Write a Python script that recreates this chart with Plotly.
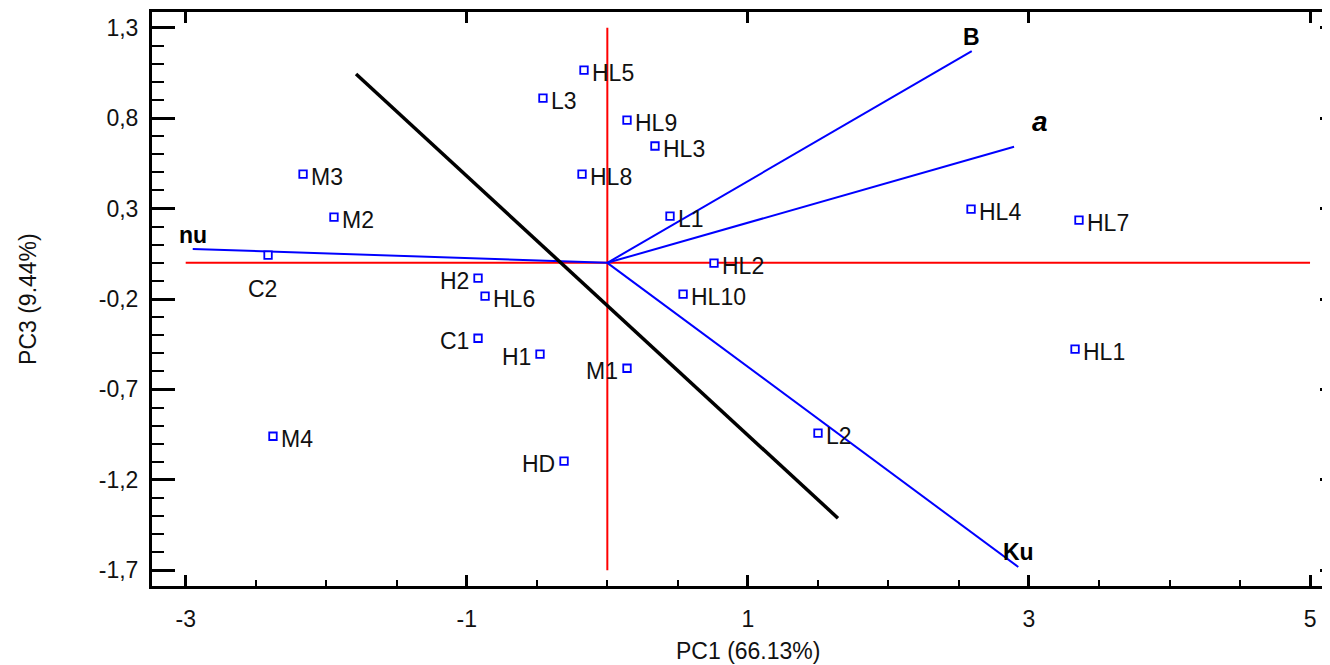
import plotly.graph_objects as go

# ---- data ----
samples = ["HL5", "L3", "HL9", "HL3", "HL8", "M3", "M2", "L1", "HL4", "HL7", "C2",
           "HL2", "H2", "HL6", "HL10", "C1", "H1", "M1", "HL1", "M4", "L2", "HD"]
pc1 = [-0.166, -0.458, 0.140, 0.339, -0.180, -2.165, -1.945, 0.446, 2.588, 3.356, -2.414,
       0.759, -0.920, -0.870, 0.539, -0.920, -0.479, 0.140, 3.328, -2.379, 1.499, -0.308]
pc3 = [1.066, 0.911, 0.789, 0.646, 0.491, 0.491, 0.253, 0.258, 0.297, 0.236, 0.043,
       -0.002, -0.085, -0.184, -0.173, -0.417, -0.505, -0.583, -0.477, -0.959, -0.942, -1.097]
label_side = ["right", "right", "right", "right", "right", "right", "right", "right", "right", "right", "below",
              "right", "left", "right", "right", "left", "left", "left", "right", "right", "right", "left"]

loading_names = ["<b>nu</b>", "<b>B</b>", "<b><i>a</i></b>", "<b>Ku</b>"]
loading_pc1 = [-2.950, 2.593, 2.894, 2.924]
loading_pc3 = [0.077, 1.171, 0.642, -1.682]
loading_label_dx = [0, 0, 26, 0]
loading_label_dy = [14, 14, 25, 15]
loading_label_size = [23, 23, 28, 23]

# reference axes through the origin and the separating line
ref_h_x = [-3, 5]
ref_h_y = [0, 0]
ref_v_x = [0, 0]
ref_v_y = [-1.7, 1.3]
sep_x = [-1.788, 1.641]
sep_y = [1.044, -1.412]

x_ticks = [-3, -1, 1, 3, 5]
y_ticks = [-1.7, -1.2, -0.7, -0.2, 0.3, 0.8, 1.3]
x_ticktext = [str(v) for v in x_ticks]
y_ticktext = [f"{v:.1f}".replace(".", ",") for v in y_ticks]

x_range = [-3.2398, 5.142]
y_range = [-1.787, 1.387]

FONT = "Liberation Sans, Arial, sans-serif"

fig = go.Figure()

fig.add_trace(go.Scatter(x=ref_h_x, y=ref_h_y, mode="lines",
                         line=dict(color="#ff0000", width=2), hoverinfo="skip"))
fig.add_trace(go.Scatter(x=ref_v_x, y=ref_v_y, mode="lines",
                         line=dict(color="#ff0000", width=2), hoverinfo="skip"))

lx, ly = [], []
for a, b in zip(loading_pc1, loading_pc3):
    lx += [0, a, None]
    ly += [0, b, None]
fig.add_trace(go.Scatter(x=lx, y=ly, mode="lines",
                         line=dict(color="#0000ff", width=2), hoverinfo="skip"))

fig.add_trace(go.Scatter(x=sep_x, y=sep_y, mode="lines",
                         line=dict(color="#000000", width=3.5), hoverinfo="skip"))

fig.add_trace(go.Scatter(x=pc1, y=pc3, mode="markers",
                         marker=dict(symbol="square", size=7.5, color="white",
                                     line=dict(color="#0000ff", width=1.8)),
                         text=samples, hoverinfo="text"))

# dummy trace for the mirrored tick axes
fig.add_trace(go.Scatter(x=[], y=[], xaxis="x2", yaxis="y2", hoverinfo="skip"))

annotations = []
for name, x, y, side in zip(samples, pc1, pc3, label_side):
    if side == "right":
        annotations.append(dict(x=x, y=y, text=name, xanchor="left", yanchor="middle",
                                xshift=6, yshift=-3, showarrow=False))
    elif side == "left":
        annotations.append(dict(x=x, y=y, text=name, xanchor="right", yanchor="middle",
                                xshift=-7, yshift=-3, showarrow=False))
    else:
        annotations.append(dict(x=x, y=y, text=name, xanchor="center", yanchor="middle",
                                xshift=-6, yshift=-34, showarrow=False))

for name, x, y, dx, dy, sz in zip(loading_names, loading_pc1, loading_pc3,
                                  loading_label_dx, loading_label_dy, loading_label_size):
    annotations.append(dict(x=x, y=y, text=name, xanchor="center", yanchor="middle",
                            xshift=dx, yshift=dy, showarrow=False,
                            font=dict(size=sz, color="#000000")))

annotations.append(dict(x=1, xref="x", y=-0.1132, yref="paper", text="PC1 (66.13%)",
                        xanchor="center", yanchor="middle", showarrow=False))
annotations.append(dict(x=-0.1053, xref="paper", y=0.5, yref="paper", text="PC3 (9.44%)",
                        textangle=-90, xanchor="center", yanchor="middle", showarrow=False))

fig.update_layout(
    width=1322, height=657,
    margin=dict(l=144, r=0, t=4, b=79),
    paper_bgcolor="white", plot_bgcolor="white",
    showlegend=False,
    font=dict(family=FONT, size=23, color="#111111"),
    annotations=annotations,
    xaxis=dict(range=x_range, showgrid=False, zeroline=False,
               showline=True, linecolor="black", linewidth=3, mirror=True,
               ticks="inside", ticklen=11, tickwidth=2.5, tickcolor="black",
               tickmode="array", tickvals=x_ticks, ticktext=x_ticktext,
               ticklabelstandoff=10,
               minor=dict(ticks="inside", ticklen=6, tickwidth=2, tickcolor="black",
                          tickmode="linear", tick0=-3, dtick=0.5)),
    yaxis=dict(range=y_range, showgrid=False, zeroline=False,
               showline=True, linecolor="black", linewidth=3, mirror=False,
               ticks="inside", ticklen=23, tickwidth=2.5, tickcolor="black",
               tickmode="array", tickvals=y_ticks, ticktext=y_ticktext,
               ticklabelstandoff=6,
               minor=dict(ticks="inside", ticklen=12, tickwidth=2, tickcolor="black",
                          tickmode="linear", tick0=0.3, dtick=0.1)),
    xaxis2=dict(overlaying="x", side="top", anchor="y", range=x_range,
                showgrid=False, zeroline=False, showline=False,
                ticks="inside", ticklen=11, tickwidth=2.5, tickcolor="black",
                tickmode="array", tickvals=x_ticks, showticklabels=False),
    yaxis2=dict(overlaying="y", side="right", anchor="x", range=y_range,
                showgrid=False, zeroline=False, showline=False,
                ticks="inside", ticklen=10, tickwidth=2.5, tickcolor="black",
                tickmode="array", tickvals=y_ticks, showticklabels=False),
)

fig.write_html("out.html")
